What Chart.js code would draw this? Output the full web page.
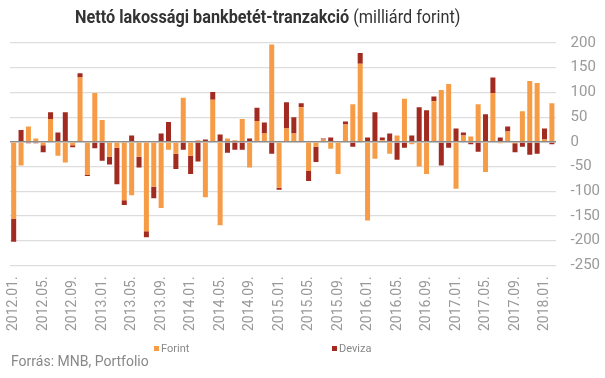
<!DOCTYPE html>
<html>
<head>
<meta charset="utf-8">
<script src="https://cdn.jsdelivr.net/npm/chart.js@4"></script>
<style>
  body { margin: 0; background: #fff; }
  #wrap { position: relative; width: 605px; height: 378px; font-family: Roboto, sans-serif; }
  #title { position: absolute; top: 5px; left: 75px; font-size: 19px; color: #333; transform: scaleX(0.855); transform-origin: left top; white-space: nowrap; }
  #title b { font-weight: bold; }
  .leg { position: absolute; top: 342px; font-size: 11px; color: #888; }
  .leg i { display: inline-block; width: 5px; height: 5px; margin-right: 2px; vertical-align: 1px; }
  #source { position: absolute; left: 11px; top: 353px; font-size: 14px; color: #888; }
</style>
</head>
<body>
<div id="wrap">
  <canvas id="myChart" width="605" height="378"></canvas>
  <div id="title"><b>Nettó lakossági bankbetét-tranzakció</b> (milliárd forint)</div>
  <div class="leg" style="left:154px"><i style="background:#f79c46"></i>Forint</div>
  <div class="leg" style="left:332px"><i style="background:#a12b20"></i>Deviza</div>
  <div id="source">Forrás: MNB, Portfolio</div>
</div>
<script>
const honapok = [
  "2012.01.", "2012.02.", "2012.03.", "2012.04.", "2012.05.", "2012.06.", "2012.07.", "2012.08.", "2012.09.", "2012.10.", "2012.11.", "2012.12.",
  "2013.01.", "2013.02.", "2013.03.", "2013.04.", "2013.05.", "2013.06.", "2013.07.", "2013.08.", "2013.09.", "2013.10.", "2013.11.", "2013.12.",
  "2014.01.", "2014.02.", "2014.03.", "2014.04.", "2014.05.", "2014.06.", "2014.07.", "2014.08.", "2014.09.", "2014.10.", "2014.11.", "2014.12.",
  "2015.01.", "2015.02.", "2015.03.", "2015.04.", "2015.05.", "2015.06.", "2015.07.", "2015.08.", "2015.09.", "2015.10.", "2015.11.", "2015.12.",
  "2016.01.", "2016.02.", "2016.03.", "2016.04.", "2016.05.", "2016.06.", "2016.07.", "2016.08.", "2016.09.", "2016.10.", "2016.11.", "2016.12.",
  "2017.01.", "2017.02.", "2017.03.", "2017.04.", "2017.05.", "2017.06.", "2017.07.", "2017.08.", "2017.09.", "2017.10.", "2017.11.", "2017.12.",
  "2018.01.", "2018.02."
];

const forint = [
  -156, -48, 31, 7, -7, 46, -28, -42, -7, 130, -67, 99,
  44, -30, -12, -118, -108, -30, -181, -91, -134, -16, -24, 89,
  -28, 3, -112, 85, -169, 7, 3, 46, -52, 42, 17, 197,
  -93, 27, 17, 70, -59, -10, 5, -14, -65, 35, 76, 158,
  -159, -34, 3, -24, 13, 87, -5, -50, -65, 82, 105, 117,
  -95, 13, 11, 76, -61, 99, -3, 21, -3, 62, 123, 119,
  5, 78
];

const deviza = [
  -46, 24, -3, -3, -14, 14, 19, 60, -4, 9, -2, -13,
  -38, -16, -74, -10, 13, -22, -12, -23, 17, 40, -31, -16,
  -37, -40, 5, 16, 15, -22, -16, -16, 7, 27, 22, -24,
  -4, 53, 33, 8, -20, -31, 2, 9, 0, 6, -10, 22,
  9, 60, 6, 17, -36, -12, 13, 70, 64, 10, -48, -12,
  27, 6, -5, -20, 56, 31, 9, 10, -18, -10, -26, -24,
  22, -5
];

const contexto = document.getElementById("myChart").getContext("2d");

const myChart = new Chart(contexto, {
  type: "bar",
  data: {
    labels: honapok,
    datasets: [
      {
        label: "Forint",
        data: forint,
        backgroundColor: "#f79c46",
        barPercentage: 0.68,
        categoryPercentage: 1,
      },
      {
        label: "Deviza",
        data: deviza,
        backgroundColor: "#a12b20",
        barPercentage: 0.68,
        categoryPercentage: 1,
      },
    ],
  },
  options: {
    responsive: false,
    animation: false,
    layout: { padding: { top: 43, left: 10, right: -10, bottom: 44 } },
    plugins: { legend: { display: false }, tooltip: { enabled: false } },
    scales: {
      x: {
        stacked: true,
        grid: { display: false },
        border: { display: false },
        ticks: {
          autoSkip: false,
          minRotation: 90,
          maxRotation: 90,
          padding: 3,
          color: "#999",
          font: { family: "Roboto", size: 14 },
          callback: (v, i) => (i % 4 === 0 ? honapok[i] : ""),
        },
      },
      y: {
        stacked: true,
        position: "right",
        min: -250,
        max: 200,
        border: { display: false },
        grid: {
          drawTicks: false,
          color: (c) => (c.tick && c.tick.value === 0 ? "#8c8c8c" : "#dddddd"),
          lineWidth: (c) => (c.tick && c.tick.value === 0 ? 1.6 : 1.2),
        },
        ticks: {
          stepSize: 50,
          padding: 15,
          color: "#999",
          font: { family: "Roboto", size: 15 },
        },
      },
    },
  },
});
</script>
</body>
</html>
